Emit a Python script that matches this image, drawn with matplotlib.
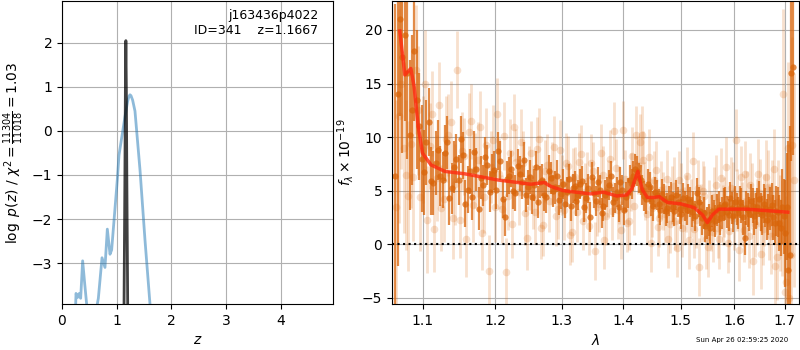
import numpy as np
import matplotlib
matplotlib.use('Agg')
import matplotlib.pyplot as plt
from matplotlib.ticker import NullLocator

# ---- p(z) panel ----
z_pz = [0.245, 0.25, 0.256, 0.286, 0.316, 0.341, 0.377, 0.414, 0.45, 0.55,
        0.645, 0.664, 0.731, 0.785, 0.828, 0.877, 0.907, 1.01, 1.041, 1.151,
        1.20, 1.225, 1.242, 1.26, 1.29, 1.333, 1.425, 1.516, 1.607, 1.65]
logp = [-4.3, -3.93, -3.69, -3.78, -3.69, -3.80, -2.95, -3.46, -3.93, -4.6,
        -3.93, -3.80, -2.88, -3.10, -2.23, -2.80, -2.70, -1.11, -0.55, 0.33,
        0.68, 0.79, 0.82, 0.80, 0.70, 0.45, -0.89, -2.48, -3.93, -4.6]

z_fine = [1.130, 1.148, 1.158, 1.1667, 1.175, 1.185, 1.203]
logp_fine = [-4.5, -1.2, 1.0, 2.05, 1.0, -1.2, -4.5]

# ---- spectrum panel ----
model_lam = [1.070, 1.0765, 1.0843, 1.0886, 1.0939, 1.0996, 1.111, 1.1295, 1.157,
             1.2036, 1.253, 1.273, 1.283, 1.3026, 1.346, 1.3676, 1.389, 1.406,
             1.4148, 1.4247, 1.4325, 1.4413, 1.453, 1.4617, 1.4765, 1.5, 1.5245,
             1.540, 1.549, 1.5585, 1.5706, 1.6245, 1.7065]
model_flux = [19.9, 15.8, 16.4, 14.7, 11.0, 8.5, 7.4, 6.8, 6.57,
              6.0, 5.6, 5.76, 5.4, 5.0, 4.7, 4.86, 4.5, 4.6,
              5.2, 6.8, 5.07, 4.36, 4.36, 4.45, 3.9, 3.77, 3.42,
              2.74, 2.02, 2.74, 3.27, 3.27, 2.99]

# dark points (two stacked beams), 105 pixels each
flux_dk = [6.4, 21.0, 19.5, 10.2, 18.0, 11.0, 6.7, 11.4, 5.7, 8.8,
           6.0, 9.5, 5.2, 8.0, 9.8, 3.8, 6.8, 8.6, 3.3, 5.5,
           7.4, 6.6, 5.1, 7.8, 2.5, 6.4, 5.0, 7.3, 5.8, 4.6,
           6.3, 5.5, 3.9, 6.0, 4.4, 6.2, 5.3, 4.1, 5.6, 4.9,
           3.6, 5.4, 4.6, 5.9, 4.3, 2.5, 4.8, 5.8, 2.9, 4.6,
           5.5, 3.9, 4.9, 5.8, 3.2, 4.8, 5.6, 7.0, 6.2, 5.1,
           4.2, 5.3, 3.6, 4.6, 3.2, 4.2, 3.4, 4.4, 3.1, 3.9,
           2.8, 3.6, 4.2, 3.0, 2.6, 3.9, 2.4, 1.7, 2.3, 3.1,
           2.2, 3.5, 2.9, 3.8, 2.7, 3.4, 3.9, 2.9, 3.6, 0.6,
           3.2, 4.0, 2.6, 3.5, 3.0, 3.8, 2.3, 3.3, 2.5, 3.1,
           2.0, 3.5, 1.0, -2.4, 16.0]
flux_dk2 = [14.0, 17.5, 16.0, 12.5, 13.5, 8.0, 9.5, 5.9, 7.6, 6.4,
            8.5, 4.3, 7.2, 6.0, 8.3, 5.1, 4.4, 7.0, 6.2, 8.1,
            4.9, 6.9, 8.7, 4.2, 6.1, 7.0, 4.8, 6.6, 7.9, 5.3,
            4.4, 7.2, 5.8, 4.6, 6.8, 5.0, 6.4, 4.7, 3.8, 6.1,
            5.2, 4.0, 5.6, 3.5, 5.2, 6.3, 4.0, 5.1, 3.6, 4.9,
            6.4, 4.3, 3.5, 5.1, 4.4, 6.0, 6.4, 6.8, 6.0, 4.5,
            5.6, 4.0, 4.9, 3.8, 4.7, 3.1, 4.0, 3.5, 4.6, 3.3,
            4.3, 3.2, 3.9, 3.6, 4.8, 3.1, 2.9, 2.0, 1.5, 2.6,
            3.2, 2.4, 3.7, 3.0, 4.3, 2.6, 3.3, 3.9, 2.5, 3.4,
            2.8, 3.6, 3.1, 4.2, 2.7, 3.4, 2.8, 3.7, 2.0, 3.0,
            1.5, 2.6, 3.5, -1.0, 16.5]
err_dk = [16.0, 9.0, 8.0, 7.0, 6.5, 5.0, 4.0, 3.2, 3.0, 2.8,
          2.6, 2.5, 2.4, 2.3, 2.2, 2.2, 2.1, 2.0, 2.0, 1.9,
          1.9, 1.8, 1.8, 1.8, 1.7, 1.7, 1.7, 1.6, 1.6, 1.6,
          1.6, 1.5, 1.5, 1.5, 1.5, 1.5, 1.5, 1.4, 1.4, 1.4,
          1.4, 1.4, 1.4, 1.4, 1.4, 1.4, 1.4, 1.4, 1.4, 1.4,
          1.4, 1.4, 1.4, 1.4, 1.4, 1.4, 1.4, 1.4, 1.4, 1.4,
          1.4, 1.4, 1.4, 1.4, 1.4, 1.4, 1.4, 1.4, 1.4, 1.4,
          1.4, 1.4, 1.4, 1.4, 1.4, 1.4, 1.5, 1.5, 1.5, 1.5,
          1.5, 1.5, 1.5, 1.5, 1.5, 1.5, 1.5, 1.5, 1.6, 1.6,
          1.6, 1.6, 1.7, 1.7, 1.8, 1.8, 1.9, 2.0, 2.1, 2.3,
          2.6, 3.5, 5.0, 12.0, 8.2]

# light points (individual beams)
flux_lt = [3.5, 15.0, 6.5, 9.4, 16.3, 4.4, 15.0, 9.2, 1.4, 13.0,
           4.2, 10.2, 2.4, 16.3, 8.7, 0.5, 11.5, 6.9, 10.9, 4.4,
           -2.5, 9.7, 12.2, 3.3, -2.6, 8.5, 10.9, 4.9, 7.6, 0.6,
           8.5, 3.0, 9.8, 1.8, 7.4, 6.6, 2.6, 8.8, 3.2, 7.3,
           1.1, 6.3, 7.7, 2.2, 5.9, 7.6, -0.6, 3.8, 6.5, 2.6,
           8.0, 10.6, 3.2, 1.3, 6.1, 2.2, 8.2, 10.2, 9.5, 7.9,
           2.8, 0.1, 6.0, 1.6, 5.1, 2.8, 0.5, 4.6, 2.2, 6.0,
           1.5, 3.8, 0.4, 7.8, 2.3, -2.1, 5.0, 0.5, 3.2, 1.1,
           5.5, 0.5, 2.7, 7.2, 1.2, 4.8, 9.7, -0.5, 2.8, 6.6,
           0.8, 4.5, 1.9, 6.6, -0.9, 3.2, 5.3, 0.8, 7.0, -1.2,
           2.0, 14.0, -3.5, -5.0, 9.3]
flux_lt2 = [12.0, 9.0, 4.5, 6.3, 12.5, 8.8, 2.3, 12.2, 6.2, 3.4,
            9.8, 11.4, 5.6, 2.3, 8.2, 10.5, 3.7, 7.9, 1.0, 9.3,
            7.2, 3.5, 6.6, 10.1, 4.5, 1.9, 7.7, 9.5, 2.9, 6.2,
            4.4, 8.9, 1.5, 6.8, 4.0, 9.1, 3.3, 5.5, 7.6, 0.9,
            6.2, 3.0, 8.4, 4.9, 1.7, 6.8, 3.5, 8.5, 0.4, 5.2,
            3.1, 7.1, 4.6, 10.7, 2.0, 5.8, 3.6, 7.4, 10.2, 5.0,
            8.1, 3.4, 6.9, 2.4, 4.0, 6.1, 1.9, 5.4, -0.4, 4.9,
            2.6, 6.4, 3.4, 1.4, 5.2, 2.9, 4.5, -0.3, 2.2, 4.4,
            1.5, 6.2, 3.5, 0.1, 5.2, 2.4, 4.1, 6.3, 1.3, 3.8,
            5.5, -1.6, 3.0, 4.8, 1.4, 6.3, 2.0, 4.3, -2.0, 3.9,
            1.5, -4.5, 9.0, -1.0, 6.0]
err_lt = [10.0, 8.0, 7.0, 6.0, 6.0, 5.0, 5.0, 4.0, 4.0, 4.0,
          4.0, 3.8, 3.8, 3.6, 3.6, 3.6, 3.5, 3.5, 3.4, 3.4,
          3.4, 3.3, 3.3, 3.2, 3.2, 3.2, 3.1, 3.1, 3.0, 3.0,
          3.0, 3.0, 2.9, 2.9, 2.9, 2.9, 2.8, 2.8, 2.8, 2.8,
          2.8, 2.8, 2.7, 2.7, 2.7, 2.7, 2.7, 2.7, 2.7, 2.7,
          2.7, 2.7, 2.7, 2.7, 2.7, 2.7, 2.7, 2.7, 2.7, 2.7,
          2.7, 2.7, 2.7, 2.7, 2.7, 2.7, 2.7, 2.7, 2.7, 2.7,
          2.7, 2.7, 2.7, 2.7, 2.7, 2.7, 2.8, 2.8, 2.8, 2.8,
          2.8, 2.8, 2.8, 2.8, 2.9, 2.9, 2.9, 2.9, 3.0, 3.0,
          3.0, 3.1, 3.1, 3.2, 3.3, 3.4, 3.5, 3.6, 3.8, 4.0,
          4.5, 8.0, 8.0, 10.0, 10.0]

lam_dk = np.linspace(1.064, 1.714, len(flux_dk))
lam_dk2 = np.linspace(1.0671, 1.7171, len(flux_dk2))
lam_lt = np.linspace(1.0655, 1.7155, len(flux_lt))
lam_lt2 = np.linspace(1.0686, 1.7186, len(flux_lt2))

orange = '#d9650a'

fig = plt.figure(figsize=(8, 3.5), dpi=100)

ax1 = fig.add_axes([62/800, 1 - 304/350, 271/800, 303/350])
ax1.plot(z_pz, logp, color='#1f77b4', alpha=0.5, lw=2)
ax1.plot(z_fine, logp_fine, color='k', alpha=0.75, lw=2)
ax1.set_xlim(0, 4.95)
ax1.set_ylim(-3.93, 2.95)
ax1.set_xticks([0, 1, 2, 3, 4])
ax1.set_yticks([-3, -2, -1, 0, 1, 2])
ax1.grid(True)
ax1.set_xlabel(r'$z$')
ax1.set_ylabel(r'$\log\ p(z)$ / $\chi^2=\frac{11304}{11018}=1.03$')
ax1.text(0.945, 0.975, 'j163436p4022\nID=341    z=1.1667', transform=ax1.transAxes,
         ha='right', va='top', fontsize=9)

ax2 = fig.add_axes([392/800, 1 - 304/350, 407/800, 303/350])
for lam, fl in [(lam_lt, flux_lt), (lam_lt2, flux_lt2)]:
    ax2.errorbar(lam, fl, yerr=err_lt, fmt='o', color=orange, alpha=0.2,
                 ms=5.5, elinewidth=2.0, mew=0)
for lam, fl in [(lam_dk, flux_dk), (lam_dk2, flux_dk2)]:
    ax2.errorbar(lam, fl, yerr=err_dk, fmt='o', color=orange, alpha=0.75,
                 ms=4.5, elinewidth=1.6, mew=0)
ax2.plot(model_lam, model_flux, color='#ff2a10', alpha=0.8, lw=2.5, zorder=5)
ax2.axhline(0, color='k', ls=':', lw=1.5, zorder=6)
ax2.set_xscale('log')
ax2.set_xlim(1.060, 1.7296)
ax2.set_ylim(-5.58, 22.7)
ax2.set_xticks([1.1, 1.2, 1.3, 1.4, 1.5, 1.6, 1.7])
ax2.set_xticklabels(['1.1', '1.2', '1.3', '1.4', '1.5', '1.6', '1.7'])
ax2.xaxis.set_minor_locator(NullLocator())
ax2.set_yticks([-5, 0, 5, 10, 15, 20])
ax2.grid(True)
ax2.set_xlabel(r'$\lambda$')
ax2.set_ylabel(r'$f_\lambda \times 10^{-19}$')

fig.text(0.985, 0.02, 'Sun Apr 26 02:59:25 2020', ha='right', va='bottom', fontsize=5)

fig.savefig('out.png', dpi=100)
